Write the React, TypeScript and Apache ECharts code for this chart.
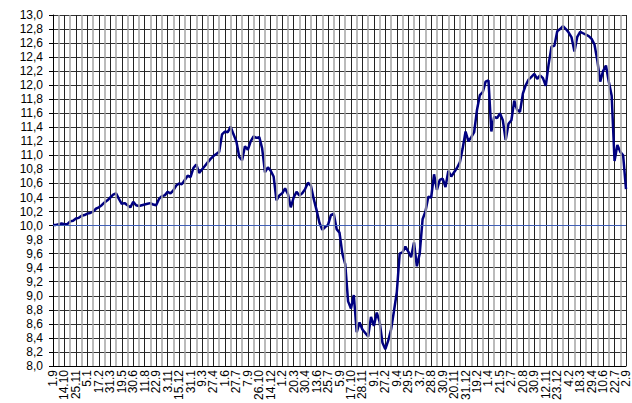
import React, { useEffect, useRef } from "react";
import * as echarts from "echarts";

// Category labels (one every 4 data points)
const tickLabels: string[] = [
  "1.9", "14.10", "25.11", "5.1", "17.2", "31.3", "19.5", "30.6", "11.8", "22.9",
  "3.11", "15.12", "31.1", "9.3", "27.4", "1.6", "27.7", "7.9", "26.10", "14.12",
  "1.2", "20.3", "30.4", "13.6", "25.7", "5.9", "17.10", "28.11", "9.1", "27.2",
  "9.4", "29.5", "3.7", "28.8", "30.9", "20.11", "31.12", "19.2", "1.4", "21.5",
  "2.7", "20.8", "30.9", "12.11", "23.12", "4.2", "18.3", "29.4", "10.6", "22.7",
  "2.9",
];

// Series values (4 points per labelled interval)
const values: number[] = [
  10.01, 10.01, 10.02, 10.03, 10.02, 10.02, 10.06, 10.07, 10.10, 10.11,
  10.14, 10.15, 10.17, 10.18, 10.20, 10.24, 10.26, 10.29, 10.33, 10.36,
  10.40, 10.44, 10.46, 10.38, 10.31, 10.32, 10.29, 10.26, 10.34, 10.29,
  10.28, 10.29, 10.30, 10.31, 10.32, 10.30, 10.29, 10.38, 10.42, 10.43,
  10.48, 10.46, 10.50, 10.57, 10.60, 10.59, 10.65, 10.71, 10.69, 10.82,
  10.87, 10.75, 10.80, 10.85, 10.90, 10.95, 10.99, 11.02, 11.05, 11.30,
  11.34, 11.33, 11.41, 11.30, 11.20, 10.98, 10.93, 11.13, 11.08, 11.20,
  11.27, 11.25, 11.26, 11.10, 10.76, 10.83, 10.78, 10.70, 10.36, 10.43,
  10.46, 10.53, 10.45, 10.26, 10.40, 10.48, 10.43, 10.46, 10.52, 10.61,
  10.57, 10.38, 10.22, 10.04, 9.94, 9.98, 10.01, 10.15, 10.17, 9.95,
  9.90, 9.60, 9.45, 8.92, 8.82, 9.01, 8.48, 8.62, 8.52, 8.47,
  8.42, 8.70, 8.57, 8.76, 8.63, 8.33, 8.24, 8.36, 8.52, 8.78,
  9.05, 9.60, 9.62, 9.70, 9.63, 9.55, 9.76, 9.42, 9.60, 10.09,
  10.20, 10.41, 10.40, 10.73, 10.51, 10.65, 10.67, 10.55, 10.78, 10.70,
  10.76, 10.82, 10.90, 11.10, 11.34, 11.20, 11.26, 11.33, 11.65, 11.86,
  11.90, 12.05, 12.07, 11.34, 11.55, 11.53, 11.60, 11.50, 11.22, 11.45,
  11.50, 11.78, 11.65, 11.62, 11.88, 12.00, 12.08, 12.12, 12.16, 12.09,
  12.14, 12.10, 11.99, 12.30, 12.55, 12.56, 12.77, 12.80, 12.84, 12.80,
  12.75, 12.68, 12.48, 12.69, 12.76, 12.74, 12.72, 12.70, 12.66, 12.58,
  12.35, 12.05, 12.20, 12.28, 12.05, 11.85, 10.92, 11.15, 11.05, 11.00,
  10.52,
];

const POINTS_PER_LABEL = 4;
const FONT = "'Liberation Sans', Arial, sans-serif";

export default function App() {
  const ref = useRef<HTMLDivElement>(null);

  useEffect(() => {
    if (!ref.current) return;
    const chart = echarts.init(ref.current, null, { renderer: "svg" });
    const data = values.map((v, i) => [i, v]);
    const xMax = (tickLabels.length - 1) * POINTS_PER_LABEL;
    const half = POINTS_PER_LABEL / 2;
    // gray grid lines halfway between labelled positions
    const midLines = tickLabels
      .slice(1)
      .map((_, i) => ({ xAxis: i * POINTS_PER_LABEL + half }));
    chart.setOption({
      animation: false,
      backgroundColor: "#ffffff",
      grid: { left: 53, right: 5, top: 15, bottom: 31, containLabel: false },
      xAxis: {
        type: "value",
        min: 0,
        max: xMax,
        interval: half,
        axisLine: { show: true, onZero: false, lineStyle: { color: "#000", width: 1 } },
        axisTick: { show: false },
        axisLabel: {
          rotate: 90,
          margin: 4,
          color: "#000",
          fontSize: 12,
          fontFamily: FONT,
          hideOverlap: false,
          showMinLabel: true,
          showMaxLabel: true,
          formatter: (v: number) => {
            const k = Math.round(v / half);
            return k % 2 === 0 ? tickLabels[k / 2] ?? "" : "";
          },
        },
        splitLine: {
          show: true,
          lineStyle: { color: ["#222222", "rgba(0,0,0,0)"], width: 1 },
        },
      },
      yAxis: {
        type: "value",
        min: 8,
        max: 13,
        interval: 0.2,
        axisLine: { show: true, lineStyle: { color: "#000", width: 1 } },
        axisTick: { show: true, length: 4, lineStyle: { color: "#000" } },
        axisLabel: {
          margin: 10,
          color: "#000",
          fontSize: 12,
          fontFamily: FONT,
          formatter: (v: number) => v.toFixed(1).replace(".", ","),
        },
        splitLine: { show: true, lineStyle: { color: "#333", width: 1 } },
      },
      series: [
        {
          type: "line",
          name: "grid",
          data: [],
          z: 1,
          silent: true,
          markLine: {
            silent: true,
            symbol: "none",
            animation: false,
            label: { show: false },
            lineStyle: { color: "#a4a4a4", width: 1.5, type: "solid" },
            data: midLines,
          },
        },
        {
          type: "line",
          data,
          z: 3,
          showSymbol: false,
          symbol: "none",
          lineStyle: { color: "#000080", width: 2.5 },
          markLine: {
            silent: true,
            symbol: "none",
            label: { show: false },
            lineStyle: { color: "#3f5fb8", width: 1, type: "solid" },
            data: [{ yAxis: 10 }],
          },
        },
      ],
    });
    return () => chart.dispose();
  }, []);

  return (
    <div
      ref={ref}
      style={{ position: "fixed", left: 0, top: 0, width: 632, height: 403 }}
    />
  );
}
